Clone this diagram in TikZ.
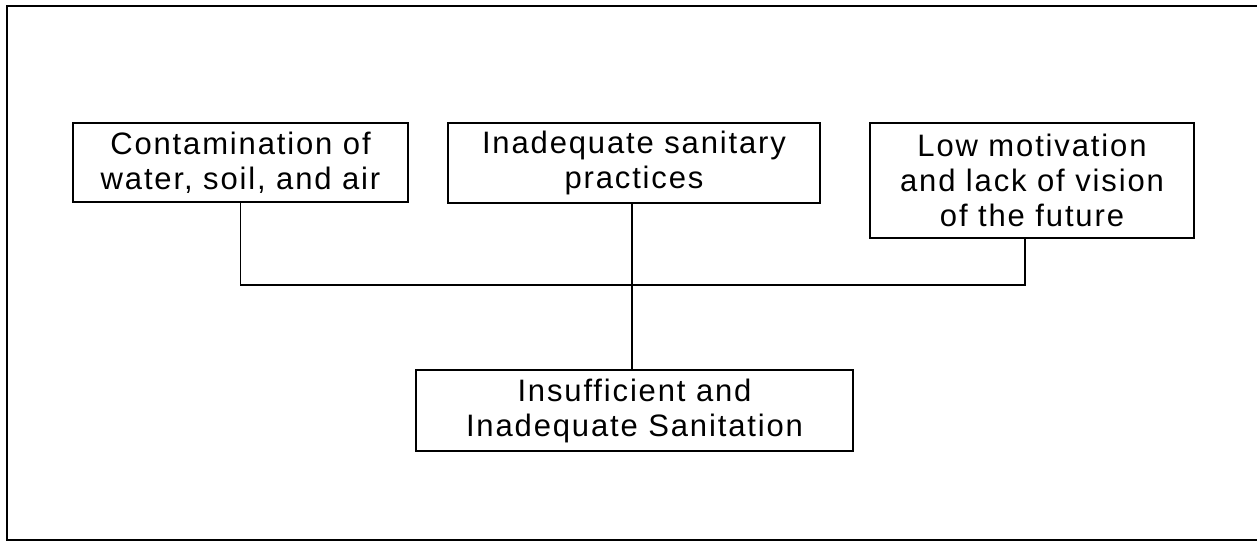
\documentclass[tikz,border=0pt]{standalone}
\usepackage{fontspec}
\setmainfont{Liberation Sans}[LetterSpace=6]

\begin{document}
\begin{tikzpicture}[x=1pt,y=-1pt,
  box/.style={draw,line width=1.6pt,align=center,inner sep=0pt,
    font=\fontsize{31}{35}\selectfont},
  link/.style={line width=1.6pt}]
\useasboundingbox (0,0) rectangle (1257,543);
\draw[line width=2.4pt] (1257,6) -- (7,6) -- (7,540) -- (1257,540);
\node at (240.5,162.5)[box,minimum width=335pt,minimum height=79pt] (Cont) {Contamination of\\water, soil, and air};
\node at (634,163)[box,minimum width=372pt,minimum height=80pt] (Prac) {Inadequate sanitary\\practices};
\node at (1032,180.5)[box,minimum width=324pt,minimum height=115pt] (Motiv) {Low motivation\\and lack of vision\\of the future};
\node at (634.5,410.5)[box,minimum width=437pt,minimum height=81pt] (Sani) {Insufficient and\\Inadequate Sanitation};
\coordinate (bus) at (632,285);
\draw[link] (Cont.south) |- (bus) -| ([xshift=-7]Motiv.south);
\draw[link] ([xshift=-2]Prac.south) -- ([xshift=-2.5]Sani.north);
\end{tikzpicture}
\end{document}
